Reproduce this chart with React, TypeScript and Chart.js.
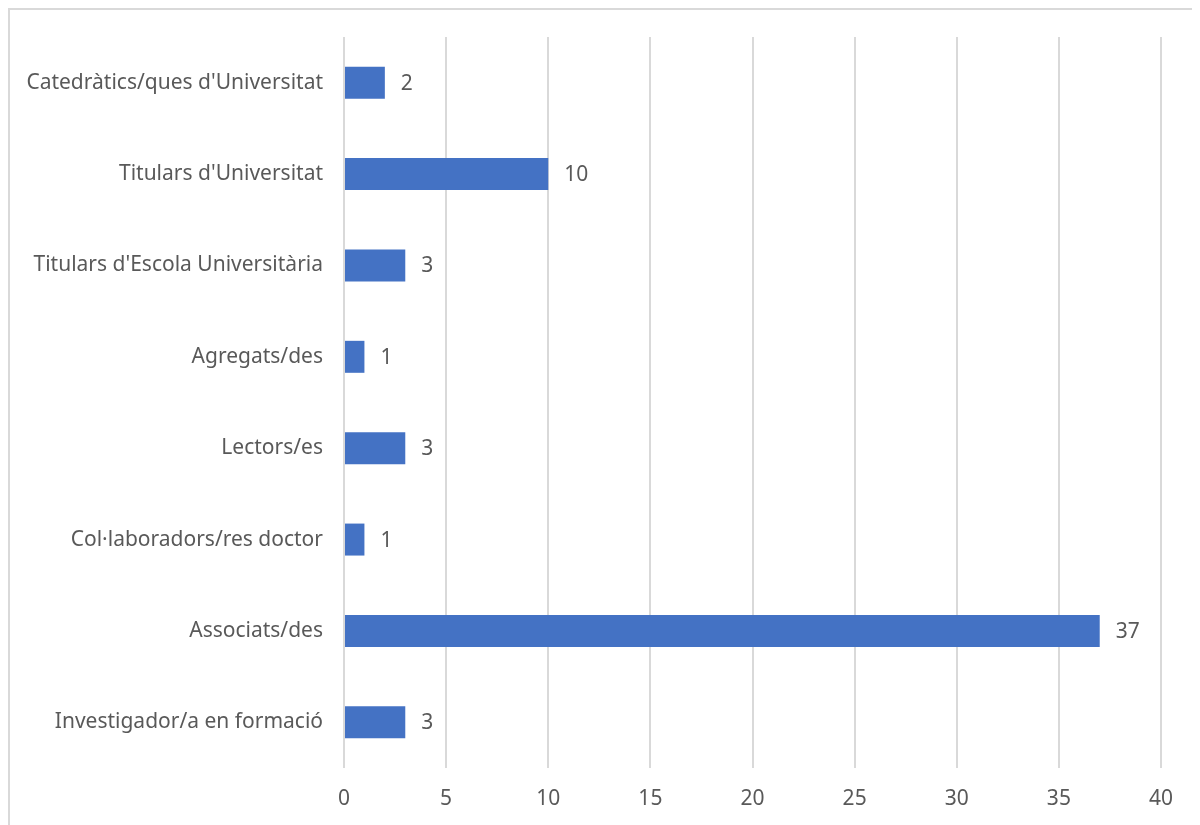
import React, { useEffect, useRef } from "react";
import { Chart, registerables } from "chart.js";

Chart.register(...registerables);

const categories = [
  "Catedràtics/ques d'Universitat",
  "Titulars d'Universitat",
  "Titulars d'Escola Universitària",
  "Agregats/des",
  "Lectors/es",
  "Col·laboradors/res doctor",
  "Associats/des",
  "Investigador/a en formació",
];
const values = [2, 10, 3, 1, 3, 1, 37, 3];
const xTicks = [0, 5, 10, 15, 20, 25, 30, 35, 40];

const FONT = "'Noto Sans', sans-serif";
const TEXT = "#595959";
const SIZE = 21;

const valueLabels = {
  id: "valueLabels",
  afterDatasetsDraw(chart: any) {
    const ctx = chart.ctx;
    const meta = chart.getDatasetMeta(0);
    ctx.save();
    ctx.fillStyle = TEXT;
    ctx.font = `${SIZE}px ${FONT}`;
    ctx.textAlign = "left";
    ctx.textBaseline = "middle";
    meta.data.forEach((bar: any, i: number) => {
      ctx.fillText(String(values[i]), bar.x + 16, bar.y + 1);
    });
    ctx.restore();
  },
};

export default function App() {
  const ref = useRef<HTMLCanvasElement>(null);
  useEffect(() => {
    document.body.style.overflow = "hidden";
    const chart = new Chart(ref.current!, {
      type: "bar",
      data: {
        labels: categories,
        datasets: [
          {
            data: values,
            backgroundColor: "#4472C4",
            categoryPercentage: 1,
            barPercentage: 0.35,
          },
        ],
      },
      options: {
        indexAxis: "y",
        animation: false,
        responsive: false,
        maintainAspectRatio: false,
        layout: { padding: { left: 0, right: 39, top: 27, bottom: 0 } },
        plugins: { legend: { display: false }, tooltip: { enabled: false } },
        scales: {
          x: {
            min: 0,
            max: 40,
            afterBuildTicks: (s: any) => {
              s.ticks = xTicks.map((v) => ({ value: v }));
            },
            afterFit: (s: any) => {
              s.height = 57;
              s.paddingLeft = 0;
              s.paddingRight = 0;
            },
            grid: { color: "#D9D9D9", lineWidth: 2, drawTicks: false },
            border: { display: false },
            ticks: { color: TEXT, font: { family: FONT, size: SIZE }, padding: 18 },
          },
          y: {
            afterFit: (s: any) => {
              s.width = 334;
              s.paddingTop = 0;
              s.paddingBottom = 0;
            },
            grid: { display: false, drawTicks: false },
            border: { display: false },
            ticks: { color: TEXT, font: { family: FONT, size: SIZE }, padding: 21 },
          },
        },
      },
      plugins: [valueLabels],
    });
    return () => chart.destroy();
  }, []);
  return (
    <div
      style={{
        position: "relative",
        width: 1192,
        height: 817,
        boxSizing: "border-box",
        borderTop: "2px solid #D9D9D9",
        borderLeft: "2px solid #D9D9D9",
        background: "#fff",
      }}
    >
      <canvas
        ref={ref}
        width={1190}
        height={815}
        style={{ position: "absolute", left: 0, top: 0, width: 1190, height: 815 }}
      />
    </div>
  );
}
